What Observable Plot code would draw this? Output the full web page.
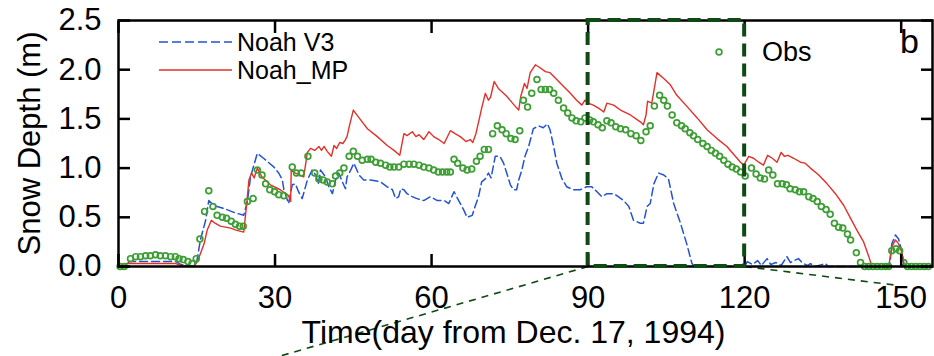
<!DOCTYPE html>
<html><head><meta charset="utf-8">
<script src="https://cdn.jsdelivr.net/npm/d3@7"></script>
<script src="https://cdn.jsdelivr.net/npm/@observablehq/plot@0.6"></script>
<style>html,body{margin:0;padding:0;background:#fff;overflow:hidden}</style>
</head><body><div id="chart"></div>
<script>
// ---------- data ----------
const mpDay = [0,1,1.5,11,12,14.5,15.2,16.4,17,17.4,17.8,18.5,19.5,20.5,21.5,22.5,24,24.5,25,25.5,26,26.6,27.5,29.1,31,32.6,33,33.1,33.9,35.5,36.2,36.8,37.6,38.4,38.9,39.4,40,40.8,41.3,41.8,42.4,43,43.5,43.8,44.3,45,46.4,47.7,49.6,51.5,52.8,53.9,54.7,55.3,56.3,57,57.6,58.5,59.5,60.4,61.4,62.4,63.6,64.5,65.5,66.6,67.4,67.9,68.5,69.1,69.6,70.3,70.9,71.3,72,72.8,74.4,76,76.7,77.1,77.8,78.3,78.9,79.9,80.8,81.8,82.7,84,85.3,86.6,87.8,88.8,89.4,90,91,92,93,93.6,94.9,96.2,98.1,100,100.6,101.1,101.4,102.2,103.2,104.5,105.7,107,108.9,110.9,112.8,114.7,116.6,119.2,119.8,120.8,121.7,122.7,123.6,124.4,125.3,126.2,127,127.6,128.3,129.4,130.7,131.6,132.6,134.2,135.8,137.4,139,140.2,141.5,142.8,143.8,144.4,147.6,148.2,148.9,149.5,150.1,150.6,156];
const mpDepth = [0,0,0.03,0.03,0.01,0,0.06,0.23,0.37,0.42,0.47,0.44,0.41,0.40,0.39,0.37,0.35,0.6,0.88,0.95,0.9,1.0,0.91,0.83,0.78,0.72,0.66,0.98,0.95,0.91,1.16,1.2,1.18,1.22,1.18,1.22,1.17,1.12,1.23,1.2,1.26,1.25,1.29,1.32,1.44,1.59,1.49,1.4,1.32,1.23,1.18,1.13,1.35,1.33,1.37,1.32,1.34,1.29,1.37,1.32,1.29,1.25,1.38,1.35,1.32,1.27,1.29,1.26,1.35,1.49,1.61,1.76,1.69,1.72,1.88,1.81,1.73,1.63,1.59,1.73,1.86,1.81,1.97,2.05,2.02,1.98,1.97,1.9,1.83,1.76,1.69,1.64,1.69,1.66,1.64,1.61,1.57,1.66,1.64,1.59,1.54,1.47,1.44,1.54,1.68,1.66,1.97,1.91,1.85,1.74,1.63,1.51,1.39,1.3,1.22,1.06,1.03,1.12,1.1,1.06,1.03,1.13,1.1,1.06,1.16,1.12,1.13,1.1,1.06,1.05,1.0,0.93,0.84,0.74,0.62,0.5,0.37,0.25,0.1,0,0,0.2,0.27,0.23,0.15,0,0];

const v3Day = [0,1.5,2,11,12,14.5,15,15.7,16.7,17.3,18.3,20.2,22.1,24,24.7,25.3,26.6,27.8,29.8,30.7,31.4,31.7,32.6,33.3,33.9,34.5,35.2,36.2,37.1,37.8,38.3,38.7,39.7,40.3,41,41.6,42.2,42.9,43.5,43.8,44.5,45.1,46.1,47,48.3,50.2,51.5,52.5,53.1,53.7,54.1,54.7,55.3,56.3,57.2,58.5,59.8,61.1,62.4,63.3,64.3,65.2,66.2,66.8,67.8,68.4,69,69.6,70.3,70.9,71.4,72.2,73.1,73.8,74.4,75.1,75.7,76.3,76.7,77.3,77.9,78.6,79.5,80.5,81.4,82.2,82.7,83.4,84,85,85.9,87.2,88.5,89.7,90.7,91.7,92.6,93.6,94.9,95.5,96.8,97.8,98.7,100,100.6,101.3,101.9,102.6,103.5,104.5,105.4,106.4,107.7,108.9,109.9,110.3,120,120.5,121.5,122.5,123.2,124.3,125,126,127,128.1,128.8,129.5,130.3,131,132,132.6,133.5,135.5,136,147.8,148.2,148.9,149.5,150.1,150.6,156];
const v3Depth = [0,0,0.05,0.05,0.02,0,0.05,0.27,0.47,0.67,0.62,0.59,0.55,0.52,0.66,0.91,1.15,1.1,1.01,0.95,0.88,0.78,0.64,0.83,0.84,0.76,0.69,0.88,0.98,0.93,0.84,0.98,0.91,0.81,0.74,0.88,0.95,0.86,0.79,0.91,0.98,1.05,0.93,0.88,0.88,0.86,0.81,0.78,0.69,0.71,0.79,0.78,0.74,0.71,0.69,0.67,0.71,0.67,0.67,0.64,0.76,0.67,0.57,0.5,0.52,0.62,0.71,0.86,0.89,0.95,0.9,1.12,1.12,1.05,0.95,0.83,0.78,0.78,0.88,0.98,1.12,1.22,1.4,1.43,1.41,1.45,1.39,1.22,1.05,0.89,0.81,0.78,0.78,0.81,0.81,0.76,0.71,0.74,0.74,0.72,0.67,0.61,0.47,0.44,0.44,0.61,0.64,0.84,0.95,0.93,0.89,0.64,0.44,0.23,0.03,0,0,0.05,0.02,0.06,0.01,0.08,0.02,0.04,0.01,0.1,0.04,0.06,0.08,0.04,0.01,0.03,0,0.03,0,0,0.23,0.32,0.28,0.16,0,0];

const obsDay = [0.3,1.1,2.3,3.3,4.2,5.2,6.1,7.1,8,9,10,10.9,11.6,12.4,13.3,14.1,14.9,15.6,16.5,17.3,18.1,18.9,19.9,20.7,21.6,22.4,23.2,23.9,24.7,25.8,26.6,27.5,28.2,29,29.9,30.7,31.7,33.3,34.1,35,36.3,37.6,38.4,39.2,40,41,41.6,42.4,43.2,44.2,45,45.8,46.7,47.7,48.4,49.3,50.2,51.2,52,52.8,53.7,54.7,55.7,56.6,57.6,58.5,59.5,60.4,61.3,62.1,62.9,63.6,64.3,65,66,66.8,67.7,68.6,69.3,70.1,70.9,71.7,72.6,73.5,74.3,75.2,76,76.9,77.6,78.4,79.2,80.2,81,81.8,82.6,83.4,84.3,85.3,86.1,86.9,87.7,88.6,89.4,90.3,91,91.9,92.7,93.6,94.4,95.3,96.2,97.2,98.2,99.2,100.1,101.1,101.9,102.7,103.7,104.5,105.2,106.1,107,107.9,108.6,109.5,110.2,111,112,112.8,113.6,114.4,115.2,116,116.8,117.6,118.4,119.2,120.1,121.3,122.2,123,123.8,124.6,125.4,126.3,127.2,128,128.7,129.7,130.5,131.3,132.3,133.1,133.9,134.7,135.6,136.4,137.2,138,138.8,139.7,140.3,141.4,142.2,143,143.8,144.6,145.4,146.2,147,147.6,148.2,149,149.7,150.5,151.2,152,152.8,153.6,154.4,155.2];
const obsDepth = [0,0,0.08,0.10,0.10,0.11,0.11,0.12,0.11,0.11,0.10,0.10,0.08,0.07,0.05,0.03,0.08,0.28,0.56,0.77,0.61,0.52,0.50,0.49,0.46,0.43,0.41,0.41,0.66,0.69,0.98,0.93,0.84,0.78,0.76,0.73,0.72,1.01,0.95,0.95,1.12,0.95,0.89,0.88,0.86,0.84,0.92,0.95,1.0,1.12,1.17,1.12,1.08,1.09,1.09,1.06,1.05,1.03,1.01,1.01,1.01,1.04,1.04,1.04,1.03,1.01,1.0,0.98,0.96,0.96,0.96,0.96,1.09,1.05,1.0,0.98,0.99,1.07,1.12,1.19,1.19,1.35,1.43,1.39,1.35,1.30,1.29,1.38,1.69,1.62,1.76,1.90,1.80,1.80,1.80,1.76,1.69,1.61,1.56,1.51,1.48,1.47,1.51,1.49,1.47,1.44,1.41,1.48,1.46,1.42,1.40,1.39,1.35,1.33,1.28,1.37,1.43,1.63,1.74,1.69,1.63,1.54,1.46,1.43,1.40,1.36,1.33,1.29,1.25,1.22,1.18,1.15,1.12,1.08,1.04,1.01,0.99,0.96,0.92,1.0,0.94,0.90,0.89,0.98,0.93,0.84,0.84,0.83,0.79,0.78,0.76,0.76,0.71,0.69,0.66,0.61,0.58,0.53,0.44,0.40,0.39,0.33,0.27,0.14,0.04,0,0,0,0,0,0,0,0.16,0.18,0.16,0.04,0,0,0,0,0,0];

const xTicks = [0, 30, 60, 90, 120, 150];
const yTicks = [0, 0.5, 1.0, 1.5, 2.0, 2.5];
const zoomWindow = [{x1: 90, x2: 120, y1: 0, y2: 2.5}];
const zoomLinks = [
  {x1: 90, y1: 0, x2: 31, y2: -0.91},
  {x1: 120, y1: 0, x2: 149, y2: -0.19}
];
const seriesNames = ["Noah V3", "Noah_MP", "Obs"];

// ---------- build tables ----------
const mp = mpDay.map((d, i) => ({day: d, depth: mpDepth[i]}));
const v3 = v3Day.map((d, i) => ({day: d, depth: v3Depth[i]}));
const obs = obsDay.map((d, i) => ({day: d, depth: obsDepth[i]}));

const RED = "#e3302a", BLUE = "#2352d6", GREEN = "#3c9e33", DKGREEN = "#0f4a14";
const FONT = "'Liberation Sans', Arial, Helvetica, sans-serif";

const chart = Plot.plot({
  width: 934, height: 356,
  marginLeft: 118, marginRight: 2, marginTop: 20, marginBottom: 90,
  style: {fontFamily: FONT, fontSize: "31px", color: "#000", background: "#fff", overflow: "visible"},
  x: {domain: [0, 156]},
  y: {domain: [0, 2.5]},
  marks: [
    Plot.line(v3, {x: "day", y: "depth", stroke: BLUE, strokeWidth: 1.5, strokeDasharray: "8,4"}),
    Plot.line(mp, {x: "day", y: "depth", stroke: RED, strokeWidth: 1.4}),
    Plot.dot(obs, {x: "day", y: "depth", r: 2.9, stroke: GREEN, strokeWidth: 1.7, fill: "none"}),
    Plot.link(zoomLinks, {x1: "x1", y1: "y1", x2: "x2", y2: "y2", stroke: DKGREEN, strokeWidth: 1.6, strokeDasharray: "7,6"}),
    Plot.frame({stroke: "#000", strokeWidth: 2.5}),
    // inward ticks on all four sides
    Plot.axisX({anchor: "bottom", ticks: xTicks, tickSize: -12, strokeWidth: 2.5, fill: "none", label: null}),
    Plot.axisX({anchor: "top", ticks: xTicks, tickSize: -12, strokeWidth: 2.5, fill: "none", label: null}),
    Plot.axisY({anchor: "left", ticks: yTicks, tickSize: -12, strokeWidth: 2.5, fill: "none", label: null}),
    Plot.axisY({anchor: "right", ticks: yTicks, tickSize: -12, strokeWidth: 2.5, fill: "none", label: null}),
    // tick labels
    Plot.axisX({anchor: "bottom", ticks: xTicks, tickSize: 0, tickPadding: 19, tickFormat: d => String(d), fontSize: 31, label: null}),
    Plot.axisY({anchor: "left", ticks: yTicks, tickSize: 0, tickPadding: 17, tickFormat: d3.format(".1f"), fontSize: 31, label: null}),
    // axis titles
    Plot.text(["Time(day from Dec. 17, 1994)"], {frameAnchor: "bottom", textAnchor: "middle", dx: -12, dy: 76, fontSize: 32}),
    Plot.text(["Snow Depth (m)"], {frameAnchor: "left", textAnchor: "middle", rotate: -90, dx: -88, fontSize: 31}),
    Plot.rect(zoomWindow, {x1: "x1", x2: "x2", y1: "y1", y2: "y2", stroke: DKGREEN, strokeWidth: 4, strokeDasharray: "13,7", fill: "none"})
  ]
});

// legend (inside the plot area)
const svg = d3.select(chart);
const lg = svg.append("g").attr("font-family", FONT).attr("fill", "#000").attr("text-anchor", "start");
lg.append("line").attr("x1", 159).attr("x2", 232).attr("y1", 42).attr("y2", 42)
  .attr("stroke", BLUE).attr("stroke-width", 1.6).attr("stroke-dasharray", "9,4");
lg.append("text").attr("x", 237).attr("y", 42).attr("dy", "0.35em").attr("font-size", 25).text(seriesNames[0]);
lg.append("line").attr("x1", 159).attr("x2", 232).attr("y1", 70).attr("y2", 70)
  .attr("stroke", RED).attr("stroke-width", 1.6);
lg.append("text").attr("x", 237).attr("y", 70).attr("dy", "0.35em").attr("font-size", 25).text(seriesNames[1]);
lg.append("circle").attr("cx", 719).attr("cy", 52).attr("r", 2.9)
  .attr("fill", "none").attr("stroke", GREEN).attr("stroke-width", 1.7);
lg.append("text").attr("x", 762).attr("y", 52).attr("dy", "0.35em").attr("font-size", 27).text(seriesNames[2]);
lg.append("text").attr("x", 919).attr("y", 53).attr("text-anchor", "end").attr("font-size", 34).text("b");

document.getElementById("chart").appendChild(chart);
</script>
</body></html>
